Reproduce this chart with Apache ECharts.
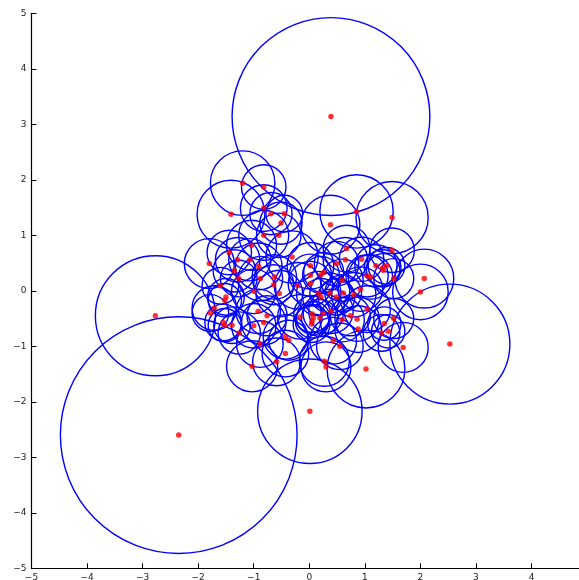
<!DOCTYPE html>
<html>
<head>
<meta charset="utf-8">
<script src="https://cdn.jsdelivr.net/npm/echarts@6/dist/echarts.min.js"></script>
<style>
  html, body { margin: 0; padding: 0; background: #fff; }
  #main { width: 579px; height: 580px; }
</style>
</head>
<body>
<div id="main"></div>
<script>
// 点的坐标与对应圆的半径
const pointX = [
  0.39, -2.35, -2.77, 0.01, 2.53, -1.20, -0.82, -1.41, -0.82, -0.69,
  -0.45, -0.51, -0.82, -0.55, 0.38, 0.85, 1.49, 1.49, -1.04, -1.44,
  -1.80, -1.29, -1.07, -0.91, -1.35, -1.27, -0.88, -0.63, -0.64, -0.31,
  -1.60, -1.00, -0.54, -0.21, -1.50, -1.52, -1.71, -1.78, -1.55, -1.52,
  -1.39, -1.26, -1.00, -0.92, -0.76, -0.82, -0.89, -1.03, -0.59, -0.43,
  -0.37, -0.43, -0.17, 0.02, 0.02, 0.02, 0.21, 0.26, 0.49, 0.65,
  0.67, 0.94, 0.59, 0.17, 0.21, 0.37, 0.61, 0.49, 0.80, 0.92,
  1.04, 1.10, 1.20, 1.32, 1.39, 1.33, 1.52, 2.07, 2.00, 1.04,
  0.86, 0.74, 0.59, 0.39, 0.25, 0.19, 0.05, 0.07, 0.05, 0.04,
  0.88, 1.52, 1.35, 1.30, 1.42, 1.69, 1.02, 0.43, 0.55, 0.27,
  0.30
];
const pointY = [
  3.14, -2.60, -0.45, -2.17, -0.96, 1.94, 1.87, 1.38, 1.49, 1.39,
  1.39, 1.22, 1.00, 1.00, 1.19, 1.43, 1.32, 0.73, 0.82, 0.69,
  0.49, 0.56, 0.56, 0.44, 0.36, 0.22, 0.22, 0.25, 0.11, 0.61,
  0.09, -0.01, -0.05, 0.09, -0.11, -0.17, -0.31, -0.40, -0.57, -0.62,
  -0.62, -0.76, -0.63, -0.37, -0.45, -0.57, -0.96, -1.36, -1.28, -0.83,
  -0.89, -1.13, -0.47, 0.45, 0.28, 0.13, 0.29, 0.33, 0.49, 0.56,
  0.76, 0.57, 0.19, -0.05, -0.11, -0.04, -0.04, -0.11, -0.07, 0.03,
  0.27, 0.25, 0.45, 0.41, 0.45, 0.37, 0.22, 0.22, -0.02, -0.33,
  -0.51, -0.45, -0.52, -0.37, -0.41, -0.49, -0.42, -0.49, -0.55, -0.60,
  -0.69, -0.50, -0.59, -0.76, -0.73, -1.02, -1.41, -0.90, -1.00, -1.27,
  -1.37
];
const radius = [
  1.78, 2.13, 1.08, 0.94, 1.08, 0.58, 0.40, 0.61, 0.42, 0.38,
  0.33, 0.38, 0.45, 0.40, 0.53, 0.66, 0.65, 0.40, 0.45, 0.40,
  0.45, 0.40, 0.38, 0.42, 0.38, 0.33, 0.40, 0.40, 0.36, 0.47,
  0.33, 0.40, 0.42, 0.42, 0.33, 0.30, 0.40, 0.33, 0.33, 0.30,
  0.33, 0.38, 0.40, 0.40, 0.36, 0.40, 0.42, 0.46, 0.43, 0.40,
  0.36, 0.42, 0.40, 0.42, 0.38, 0.40, 0.33, 0.36, 0.40, 0.40,
  0.42, 0.40, 0.38, 0.40, 0.33, 0.36, 0.33, 0.33, 0.40, 0.40,
  0.38, 0.40, 0.38, 0.33, 0.33, 0.30, 0.36, 0.53, 0.50, 0.42,
  0.40, 0.36, 0.40, 0.40, 0.36, 0.33, 0.33, 0.30, 0.30, 0.33,
  0.42, 0.36, 0.30, 0.33, 0.30, 0.45, 0.70, 0.42, 0.42, 0.45,
  0.45
];
const ticks = [-5, -4, -3, -2, -1, 0, 1, 2, 3, 4, 5];

const circleData = pointX.map((x, i) => [x, pointY[i], radius[i]]);
const pointData = pointX.map((x, i) => [x, pointY[i]]);

const chart = echarts.init(document.getElementById("main"));

const axisCommon = {
  type: "value",
  min: ticks[0],
  max: ticks[ticks.length - 1],
  interval: 1,
  splitLine: { show: false },
  axisLine: { show: true, onZero: false, lineStyle: { color: "#000", width: 1.2 } },
  axisTick: { show: true, inside: true, length: 5, lineStyle: { color: "#000" } },
  axisLabel: {
    fontSize: 9,
    color: "#222",
    fontFamily: "DejaVu Sans",
    margin: 5,
    formatter: (v) => String(v).replace("-", "\u2212"),
  },
};

const option = {
  backgroundColor: "#fff",
  animation: false,
  grid: { left: 31.5, top: 13.3, width: 555.6, height: 555, outerBoundsMode: "none", containLabel: false },
  xAxis: Object.assign({}, axisCommon),
  yAxis: Object.assign({}, axisCommon),
  series: [
    {
      // 每个点对应的圆
      type: "custom",
      data: circleData,
      encode: { x: 0, y: 1 },
      clip: false,
      renderItem: function (params, api) {
        const c = api.coord([api.value(0), api.value(1)]);
        const s = api.size([api.value(2), api.value(2)]);
        return {
          type: "circle",
          shape: { cx: c[0], cy: c[1], r: s[0] },
          style: { fill: "none", stroke: "#0000ff", lineWidth: 1.4 },
        };
      },
      z: 2,
    },
    {
      type: "scatter",
      data: pointData,
      symbolSize: 5.5,
      itemStyle: { color: "#ff0000" },
      z: 3,
    },
  ],
};

chart.setOption(option);
</script>
</body>
</html>
